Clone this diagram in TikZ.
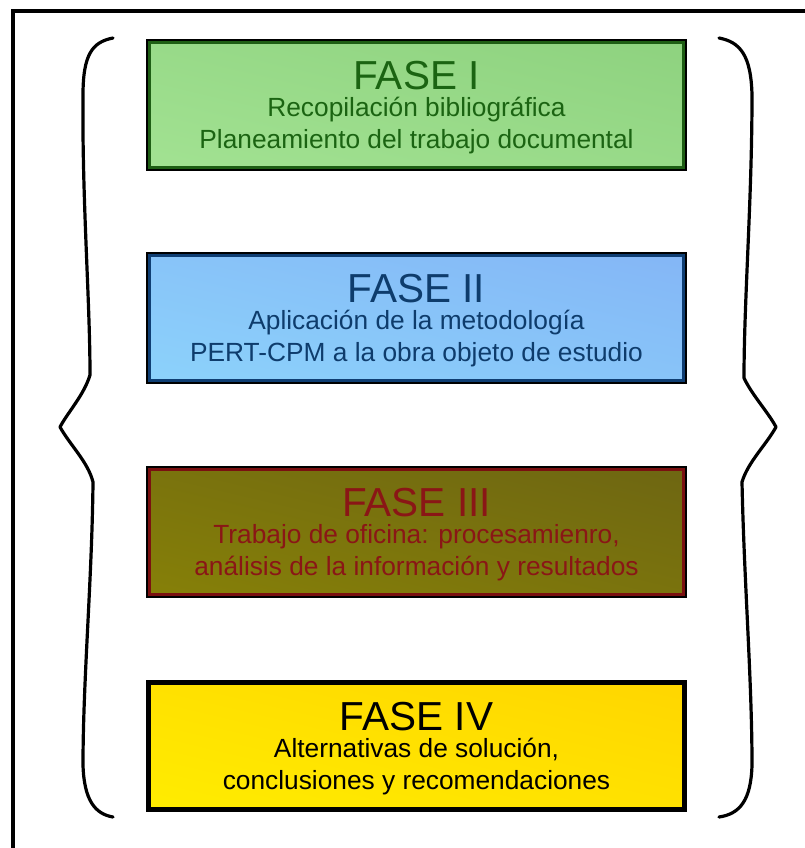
\documentclass[tikz,border=0pt]{standalone}
\usepackage{fontspec}
\setmainfont{Liberation Sans}
\usetikzlibrary{shadings}
\definecolor{gA}{HTML}{8ED27F}
\definecolor{gB}{HTML}{A2E292}
\definecolor{gBorder}{HTML}{1E5E14}
\definecolor{gText}{HTML}{1B6412}
\definecolor{bA}{HTML}{84B6F6}
\definecolor{bB}{HTML}{8CD2FB}
\definecolor{bBorder}{HTML}{0F3E73}
\definecolor{bText}{HTML}{0E3C6C}
\definecolor{oA}{HTML}{6E6612}
\definecolor{oB}{HTML}{868008}
\definecolor{oBorder}{HTML}{7A1010}
\definecolor{oText}{HTML}{8A1616}
\definecolor{yA}{HTML}{FFD600}
\definecolor{yB}{HTML}{FFEC00}
\tikzset{
  phasebox/.style={rectangle, minimum width=535pt, minimum height=126pt, inner sep=0pt},
  titletext/.style={anchor=base, font=\fontsize{40.5}{44}\selectfont},
  subtext/.style={anchor=base, font=\fontsize{26.3}{30}\selectfont},
  bracestyle/.style={line width=3.2pt, line cap=round, line join=round},
  framestyle/.style={line width=4pt}
}
\newcommand{\phase}[9]{%
  \node[phasebox] (#1) at (416.5,#2+63) {};
  \draw[black, line width=5pt] (#1.north west) rectangle (#1.south east);
  \shade[upper right=#3, lower left=#4, upper left=#3!50!#4, lower right=#3!50!#4]
     (#1.north west) rectangle (#1.south east);
  \draw[#5, line width=3pt] ([shift={(1pt,-1pt)}]#1.north west) rectangle ([shift={(-1pt,1pt)}]#1.south east);
  \node[titletext, text=#6] (#1t) at ([yshift=-48pt]#1.north) {#7};
  \node[subtext, text=#6] (#1a) at ([yshift=-75pt]#1.north) {#8};
  \node[subtext, text=#6] (#1b) at ([yshift=-106.5pt]#1.north) {#9};
}
\begin{document}
\begin{tikzpicture}[x=1pt,y=-1pt]
\useasboundingbox (0,0) rectangle (804,848);
\fill[white] (0,0) rectangle (804,848);
\draw[framestyle] (13,850) -- (13,11) -- (806,11);
\phase{f1}{42}{gA}{gB}{gBorder}{gText}{FASE I}{Recopilación bibliográfica}{Planeamiento del trabajo documental}
\phase{f2}{255}{bA}{bB}{bBorder}{bText}{FASE II}{Aplicación de la metodología}{PERT-CPM a la obra objeto de estudio}
\phase{f3}{469}{oA}{oB}{oBorder}{oText}{FASE III}{Trabajo de oficina: procesamienro,}{análisis de la información y resultados}
\phase{f4}{683}{yA}{yB}{black}{black}{FASE IV}{Alternativas de solución,}{conclusiones y recomendaciones}
% left brace
\draw[bracestyle] (113,38) .. controls (92,42) and (83,55) .. (83,95)
  .. controls (82,200) and (90,300) .. (90,375)
  .. controls (84,395) and (68,412) .. (60,427)
  .. controls (70,445) and (88,462) .. (93,482)
  .. controls (92,580) and (83,680) .. (83,765)
  .. controls (84,800) and (95,814) .. (113,817);
% right brace
\draw[bracestyle] (719,38) .. controls (740,42) and (751,55) .. (752,95)
  .. controls (752,200) and (744,300) .. (744,378)
  .. controls (752,395) and (768,412) .. (776,427)
  .. controls (766,445) and (748,462) .. (742,482)
  .. controls (744,580) and (752,680) .. (752,765)
  .. controls (751,800) and (740,814) .. (719,817);
\end{tikzpicture}
\end{document}
